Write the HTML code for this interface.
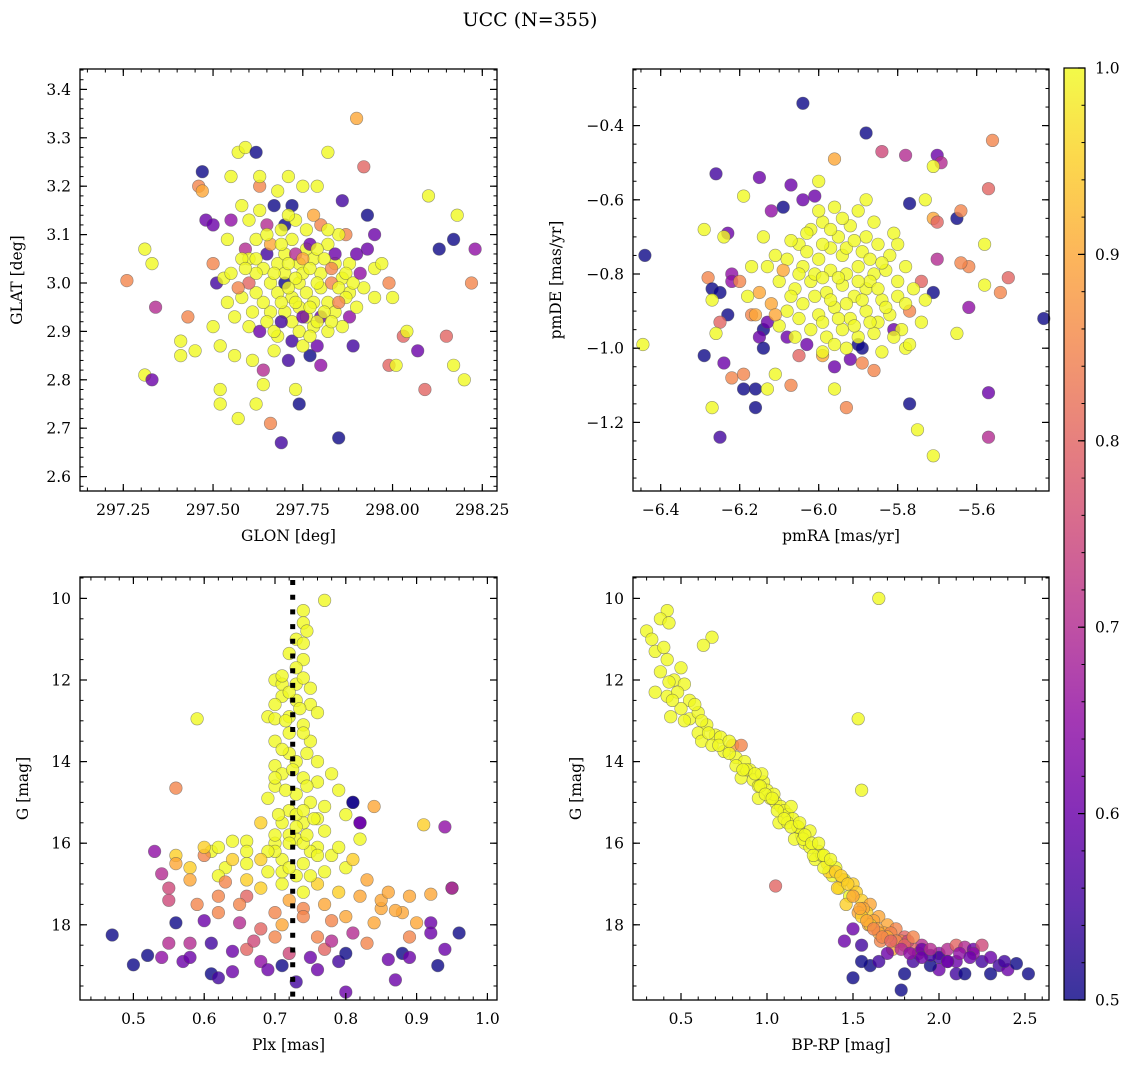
<!DOCTYPE html>
<html><head><meta charset="utf-8"><style>
html,body{margin:0;padding:0;background:#fff;}
svg{display:block;font-family:"DejaVu Serif","Liberation Serif",serif;}
</style></head><body>
<svg id="fig" width="1136" height="1068" viewBox="0 0 1136 1068" xmlns="http://www.w3.org/2000/svg">
<defs>
<linearGradient id="cmap" x1="0" y1="1" x2="0" y2="0">
<stop offset="0" stop-color="#0d0887"/><stop offset="0.1" stop-color="#41049d"/><stop offset="0.2" stop-color="#6a00a8"/><stop offset="0.3" stop-color="#8f0da4"/><stop offset="0.4" stop-color="#b12a90"/><stop offset="0.5" stop-color="#cc4778"/><stop offset="0.6" stop-color="#e16462"/><stop offset="0.7" stop-color="#f2844b"/><stop offset="0.8" stop-color="#fca636"/><stop offset="0.9" stop-color="#fcce25"/><stop offset="1" stop-color="#f0f921"/>
</linearGradient>
</defs>
<text x="530" y="26" font-size="19" text-anchor="middle">UCC (N=355)</text>
</svg>
<script>
// ---- Panel 1: GLON / GLAT ----
const glon=[297.26,297.31,297.33,297.34,297.31,297.33,297.41,297.41,297.43,297.45,297.46,297.47,297.47,297.48,297.50,297.50,297.51,297.52,297.52,297.52,297.53,297.55,297.55,297.56,297.57,297.57,297.59,297.59,297.60,297.61,297.62,297.62,297.63,297.63,297.64,297.64,297.65,297.66,297.67,297.68,297.69,297.70,297.71,297.72,297.73,297.74,297.75,297.77,297.79,297.80,297.82,297.85,297.86,297.87,297.88,297.89,297.90,297.92,297.93,297.95,297.99,298.00,297.99,298.01,298.03,298.09,298.07,298.10,298.13,298.15,298.17,298.17,298.18,298.20,298.22,298.23,298.04,297.95,297.93,
297.62,297.64,297.66,297.68,297.70,297.72,297.74,297.76,297.78,297.80,297.82,297.84,297.86,297.88,297.66,297.68,297.70,297.72,297.74,297.76,297.78,297.80,297.82,297.84,297.70,297.72,297.74,297.76,297.78,297.80,297.66,297.64,297.62,297.60,297.58,297.56,297.60,297.63,297.68,297.72,297.75,297.82,297.86,297.90,297.92,297.88,297.90,297.85,297.80,297.76,297.73,297.69,297.65,297.62,297.58,297.55,297.70,297.75,297.79,297.73,297.77,297.83,297.67,297.71,297.79,297.84,297.60,297.63,297.95,297.97,
297.69,297.71,297.73,297.75,297.77,297.79,297.81,297.83,297.85,297.87,297.67,297.69,297.71,297.73,297.75,297.77,297.79,297.81,297.83,297.85,297.65,297.67,297.69,297.74,297.77,297.62,297.59,297.57,297.54,297.61,297.87,297.89,297.91,297.65,297.71,297.78,297.82,297.58,297.54,297.50];
const glat=[3.005,3.07,3.04,2.95,2.81,2.80,2.88,2.85,2.93,2.86,3.20,3.23,3.19,3.13,3.12,2.91,3.00,2.87,2.78,2.75,3.01,3.13,3.22,2.85,2.72,3.27,3.28,3.07,3.05,2.84,2.75,3.27,3.20,3.22,2.82,2.79,3.06,2.71,3.16,3.19,2.67,3.12,3.22,3.16,2.78,2.75,3.20,2.85,3.20,2.83,3.27,2.68,3.17,3.10,2.93,2.87,3.34,3.24,3.14,3.10,3.00,2.97,2.83,2.83,2.89,2.78,2.86,3.18,3.07,2.89,3.09,2.83,3.14,2.80,3.00,3.07,2.90,3.03,3.07,
3.05,3.03,3.08,3.04,3.06,3.09,3.04,3.07,3.05,3.02,3.08,3.04,3.01,2.98,3.00,2.98,3.00,2.97,3.00,2.98,2.96,2.99,2.96,2.94,2.94,2.92,2.95,2.93,2.91,2.93,2.94,2.96,2.98,3.00,2.97,2.93,2.91,2.90,2.89,2.88,2.87,2.90,2.91,2.95,2.99,3.04,3.06,3.10,3.12,3.11,3.13,3.11,3.12,3.09,3.05,3.02,3.02,3.02,3.00,3.06,3.08,3.00,2.86,2.84,2.87,3.06,3.13,3.15,2.97,3.04,
3.08,3.04,3.01,3.05,3.03,3.07,3.05,3.03,2.99,2.97,3.02,2.96,2.99,2.96,2.93,2.95,2.92,2.94,2.92,2.96,2.92,2.90,2.92,2.90,2.89,3.02,3.03,2.99,2.96,2.94,3.02,3.00,3.02,3.10,3.14,3.14,3.11,3.16,3.09,3.04];
const prob1=[0.85,1,1,0.7,1,0.6,1,1,0.85,1,0.85,0.5,0.9,0.6,0.6,1,0.55,1,1,1,1,0.65,1,1,1,1,1,0.7,1,1,1,0.5,0.85,1,0.7,1,0.55,0.85,0.5,1,0.55,0.5,1,0.5,1,0.5,1,0.5,1,0.65,1,0.5,0.55,0.85,0.65,0.55,0.9,0.8,0.5,0.6,0.85,1,0.8,1,0.8,0.8,0.6,1,0.5,0.8,0.5,1,1,1,0.85,0.65,1,1,0.6,
1,1,0.9,1,1,1,1,1,1,1,1,1,1,1,1,1,0.5,1,1,1,1,1,1,1,1,1,1,1,1,0.6,1,1,1,0.8,1,1,1,0.6,1,0.55,1,1,1,1,1,1,0.6,1,0.85,1,1,1,0.7,1,1,1,1,1,1,0.7,0.6,0.85,1,0.55,0.6,0.6,1,1,1,1,
1,1,1,0.9,1,1,1,0.85,1,1,1,1,1,1,0.6,1,1,1,1,0.85,1,1,0.55,1,1,1,1,0.85,1,1,1,1,0.65,1,1,0.9,1,1,1,0.85];

// ---- Panel 2: pmRA / pmDE ----
const pmra=[-6.04,-5.88,-5.56,-5.96,-5.78,-5.70,-5.84,-5.69,-5.71,-6.26,-6.15,-6.07,-5.57,-6.19,-6.09,-6.12,-6.04,-6.00,-6.01,-5.73,-5.71,-5.70,-5.65,-5.64,-5.77,-6.29,-6.23,-6.24,-6.44,-6.22,-6.22,-6.28,-6.27,-6.25,-6.27,-6.23,-6.25,-6.26,-6.29,-6.445,-6.24,-6.22,-6.19,-6.19,-6.16,-6.16,-6.13,-6.11,-6.27,-6.25,-6.07,-5.93,-5.96,-5.75,-5.77,-5.71,-5.57,-5.57,-5.52,-5.43,-5.54,-5.58,-5.62,-5.65,-5.58,-5.62,-5.64,-5.70,-5.71,-5.74,-5.73,-5.77,-5.81,-5.78,-5.96,-5.92,-5.86,-5.99,-6.03,-6.05,-6.08,-6.14,-6.15,-6.17,-6.14,-6.13,-5.90,-5.89,
-6.05,-6.02,-5.99,-5.95,-5.92,-5.88,-5.85,-5.82,-6.08,-6.04,-6.00,-5.97,-5.94,-5.90,-5.86,-5.83,-5.80,-6.10,-6.06,-6.02,-5.98,-5.94,-5.91,-5.88,-5.84,-5.80,-6.12,-6.08,-6.04,-6.00,-5.96,-5.92,-5.88,-5.85,-5.82,-6.02,-5.98,-5.94,-5.90,-5.86,-5.79,-6.10,-5.96,-5.90,-5.86,-6.13,-6.15,-5.78,-5.76,-5.93,-5.99,-5.84,-6.06,-5.97,-5.89,-6.01,-5.93,-5.87,-6.07,-5.81,-6.14,-6.17,-6.18,-6.11,-5.74,-5.77,
-6.03,-5.99,-5.93,-5.87,-5.84,-6.05,-5.99,-5.95,-5.90,-5.85,-6.07,-6.01,-5.97,-5.93,-5.89,-5.83,-6.05,-5.99,-5.95,-5.91,-5.87,-5.81,-6.03,-5.97,-5.91,-5.80,-6.09,-5.78,-6.11,-5.96,-5.89,-6.00,-5.94,-5.88,-6.20,-6.16];
const pmde=[-0.34,-0.42,-0.44,-0.49,-0.48,-0.48,-0.47,-0.50,-0.51,-0.53,-0.54,-0.56,-0.57,-0.59,-0.62,-0.63,-0.60,-0.55,-0.59,-0.60,-0.65,-0.66,-0.65,-0.63,-0.61,-0.68,-0.69,-0.70,-0.75,-0.80,-0.82,-0.81,-0.84,-0.85,-0.87,-0.91,-0.93,-0.96,-1.02,-0.99,-1.04,-1.08,-1.07,-1.11,-1.11,-1.16,-1.11,-1.07,-1.16,-1.24,-1.10,-1.16,-1.11,-1.22,-1.15,-1.29,-1.12,-1.24,-0.81,-0.92,-0.85,-0.83,-0.89,-0.96,-0.72,-0.78,-0.77,-0.76,-0.85,-0.82,-0.87,-0.90,-0.95,-1.00,-1.05,-1.03,-1.06,-1.02,-0.99,-1.02,-0.97,-0.95,-0.97,-0.91,-1.00,-0.93,-0.99,-1.00,
-0.72,-0.68,-0.66,-0.70,-0.67,-0.70,-0.72,-0.75,-0.76,-0.78,-0.76,-0.79,-0.75,-0.78,-0.80,-0.79,-0.82,-0.82,-0.84,-0.82,-0.85,-0.83,-0.86,-0.84,-0.87,-0.86,-0.88,-0.90,-0.88,-0.91,-0.89,-0.92,-0.90,-0.93,-0.91,-0.95,-0.97,-0.95,-0.97,-0.96,-0.95,-0.94,-0.62,-0.63,-0.66,-0.78,-0.85,-0.78,-0.84,-1.00,-1.01,-1.01,-0.97,-0.73,-0.74,-0.80,-0.80,-0.82,-0.71,-0.69,-0.70,-0.78,-0.86,-0.75,-0.93,-0.99,
-0.74,-0.72,-0.73,-0.76,-0.77,-0.80,-0.81,-0.81,-0.82,-0.84,-0.86,-0.86,-0.87,-0.88,-0.87,-0.89,-0.92,-0.93,-0.92,-0.94,-0.93,-0.97,-0.69,-0.68,-0.71,-0.72,-0.79,-0.88,-0.91,-0.99,-1.04,-0.63,-0.65,-0.60,-0.82,-0.91];
const prob2=[0.5,0.5,0.85,0.9,0.7,0.6,0.75,0.7,1,0.55,0.6,0.6,0.8,1,0.5,0.65,0.6,1,0.6,1,0.9,0.8,0.5,0.85,0.5,1,0.6,1,0.5,0.65,0.65,0.85,0.5,0.5,1,0.5,0.8,1,0.5,1,0.6,0.85,0.85,0.5,0.5,0.5,1,1,1,0.55,0.85,0.85,1,1,0.5,1,0.6,0.7,0.8,0.5,0.85,1,0.65,1,1,0.85,0.85,0.7,0.5,0.8,1,0.85,0.6,1,0.6,0.6,0.85,0.9,0.6,0.8,0.6,0.5,0.6,0.85,0.5,0.6,0.5,0.5,
1,1,1,1,1,1,1,1,1,1,1,1,1,1,1,1,1,1,1,1,1,1,1,1,1,1,0.9,1,1,1,1,1,1,1,1,1,1,1,1,1,1,1,1,1,1,1,0.9,1,1,1,1,1,1,1,1,1,1,1,1,1,1,1,1,1,1,1,
1,1,1,1,1,1,1,1,1,1,1,1,1,1,1,1,1,1,1,1,1,1,1,1,1,1,0.9,1,0.9,1,0.85,1,1,1,0.85,0.9];

// ---- Panel 3: Plx / G ----
const plx=[0.77,0.74,0.74,0.745,0.73,0.74,0.72,0.74,0.73,0.70,0.71,0.73,0.75,0.75,0.73,0.71,0.70,0.69,0.70,0.72,0.76,0.59,0.74,0.72,0.70,0.75,0.72,0.70,0.73,0.76,0.71,0.74,0.76,0.78,0.70,0.73,0.79,0.69,0.75,0.72,0.77,0.80,0.71,0.74,0.68,0.77,0.73,0.66,0.64,0.82,0.70,0.76,0.78,0.61,0.66,0.71,0.74,0.63,0.69,0.73,0.77,0.80,0.56,0.56,0.58,0.60,0.62,0.66,0.68,0.71,0.74,0.76,0.79,0.82,0.85,0.88,0.92,0.95,0.94,0.91,0.84,0.81,0.82,0.85,0.72,0.75,0.70,0.73,0.76,0.71,0.74,0.72,
0.47,0.50,0.52,0.55,0.54,0.53,0.54,0.55,0.55,0.56,0.56,0.57,0.58,0.58,0.59,0.60,0.61,0.61,0.62,0.62,0.64,0.64,0.65,0.66,0.67,0.68,0.69,0.70,0.71,0.72,0.73,0.75,0.76,0.77,0.78,0.78,0.79,0.80,0.80,0.81,0.81,0.82,0.83,0.84,0.86,0.87,0.88,0.89,0.89,0.90,0.92,0.92,0.93,0.94,0.95,0.96,0.87,0.63,0.66,0.74,0.70,0.68,0.76,
0.71,0.74,0.72,0.735,0.715,0.74,0.71,0.745,0.725,0.70,0.745,0.715,0.74,0.705,0.73,0.755,0.70,0.745,0.72,0.69,0.76,0.72,0.75,0.68,0.66,0.64,0.62,0.60,0.58,0.79,0.81,0.83,0.86,0.89,0.74,0.71,0.77,0.80,0.65,0.62];
const gmag3=[10.05,10.3,10.6,10.8,11.0,11.1,11.35,11.5,11.7,12.0,12.1,12.1,12.2,12.6,12.5,12.4,12.6,12.9,12.95,12.9,12.8,12.95,13.1,13.3,13.5,13.5,13.8,14.1,14.0,14.0,14.3,14.4,14.5,14.3,14.6,14.8,14.7,14.9,15.0,15.2,15.1,15.3,15.5,15.5,15.5,15.7,15.9,15.95,15.95,15.9,16.0,16.1,16.3,16.2,16.5,16.4,16.5,16.6,16.7,16.8,16.7,16.6,16.3,16.5,16.6,16.3,16.8,16.9,17.1,17.0,17.2,17.0,17.2,17.3,17.6,17.7,17.25,17.1,15.6,15.55,15.1,15.0,15.5,17.4,15.8,16.2,16.2,15.3,15.4,16.7,16.0,17.4,
18.25,18.98,18.75,18.45,18.8,16.2,16.75,17.1,17.4,17.95,14.65,18.9,18.45,18.8,17.5,17.9,18.45,19.2,19.3,17.7,18.65,19.15,17.95,18.6,18.4,18.9,19.1,18.3,19.0,18.7,19.4,18.8,19.1,18.6,17.9,18.4,18.9,19.65,18.7,18.2,15.0,15.5,18.45,17.95,18.85,19.35,18.7,18.8,18.3,17.95,17.95,18.2,19.0,18.6,17.1,18.2,17.65,16.95,17.3,17.6,17.7,18.1,18.3,
11.9,11.95,12.3,12.7,13.0,13.3,13.7,13.8,14.2,14.4,14.6,14.7,15.2,15.3,15.6,15.4,15.8,15.8,16.0,16.2,16.3,16.6,16.8,16.4,16.2,16.4,16.1,16.1,16.9,16.1,16.4,16.9,17.2,17.3,17.8,18.0,17.5,17.8,17.5,17.3];
const prob3=[1,1,1,1,1,1,1,1,1,1,1,1,1,1,1,1,1,1,1,1,1,1,1,1,1,1,1,1,1,1,1,1,1,1,1,1,1,1,1,1,1,1,1,1,0.95,1,1,1,1,1,1,1,1,1,1,1,1,1,1,1,1,1,0.95,0.9,0.95,0.85,1,0.95,0.95,1,1,0.95,0.95,0.9,0.9,0.9,0.9,0.95,0.65,0.95,0.9,0.55,0.6,0.9,1,1,1,1,1,1,1,0.9,
0.5,0.5,0.5,0.7,0.65,0.65,0.7,0.75,0.75,0.5,0.85,0.6,0.7,0.6,0.85,0.6,0.55,0.5,0.55,0.85,0.6,0.6,0.7,0.8,0.75,0.65,0.6,0.85,0.5,0.75,0.55,0.6,0.6,0.8,0.85,0.7,0.55,0.6,0.5,0.7,0.5,0.6,0.85,0.9,0.6,0.6,0.5,0.6,0.85,0.9,0.6,0.6,0.5,0.6,0.65,0.5,0.9,0.85,0.8,0.85,0.85,0.8,0.85,
1,1,1,1,1,1,1,1,1,1,1,1,1,1,1,1,1,1,1,1,1,1,1,0.95,1,0.95,1,0.95,0.9,1,0.95,0.9,0.9,0.9,0.85,0.9,0.9,0.9,0.85,0.85];

// ---- Panel 4: BP-RP / G ----
const bprp=[0.42,0.38,0.43,0.30,0.68,0.63,0.35,0.42,0.38,0.46,0.43,0.52,0.35,0.42,0.48,0.55,0.50,0.44,0.55,0.60,0.65,0.60,0.70,0.73,0.62,0.68,0.80,0.75,0.82,0.87,0.90,0.85,0.92,0.98,1.00,0.95,1.05,1.08,1.10,1.12,1.15,1.07,1.18,1.20,1.25,1.16,1.22,1.30,1.28,1.35,1.40,1.38,1.45,1.50,1.42,1.52,1.55,1.60,1.58,1.65,1.70,1.75,1.80,1.90,2.00,2.10,
0.78,0.88,0.95,1.02,1.12,1.18,1.25,1.32,1.36,1.44,1.48,1.56,1.62,1.68,1.72,1.78,1.85,0.97,1.04,1.14,1.21,1.27,1.33,1.41,1.46,1.53,1.59,1.64,1.66,1.73,1.82,1.88,
1.65,1.53,1.55,1.05,0.85,
1.90,2.00,2.05,2.10,2.15,2.20,2.25,2.30,2.35,2.40,2.45,2.52,2.00,2.10,1.95,1.85,1.80,1.78,1.60,1.55,1.50,1.55,1.45,1.50,1.70,1.65,2.15,2.25,1.75,1.80,1.85,1.65,1.60,1.70,1.55,2.05,1.95,2.20,
0.33,0.40,0.50,0.45,0.58,0.52,0.62,0.66,0.72,0.78,0.82,0.86,0.93,0.96,0.99,1.03,1.06,1.10,1.14,1.19,1.22,1.26,1.30,1.33,1.37,1.40,1.43,1.47,1.50,1.54,1.58,1.62,1.67,1.72,1.78,1.83,1.90,1.95,2.05,2.12,2.18,2.30,2.38];
const gmag4=[10.3,10.5,10.6,10.8,10.95,11.15,11.3,11.5,11.8,12.0,12.05,12.1,12.3,12.4,12.3,12.5,12.7,12.9,12.95,12.8,13.1,13.3,13.35,13.4,13.5,13.6,13.6,13.75,13.9,14.0,14.2,14.4,14.45,14.5,14.7,14.9,15.0,15.1,15.2,15.3,15.4,15.5,15.6,15.8,15.7,15.9,16.0,16.2,16.4,16.5,16.6,16.8,16.9,17.0,17.1,17.2,17.4,17.5,17.7,17.8,18.0,18.1,18.3,18.5,18.7,18.9,
13.8,14.2,14.6,14.9,15.5,15.6,16.1,16.3,16.7,16.9,17.3,17.6,17.9,18.2,18.2,18.4,18.6,14.3,14.8,15.1,15.9,16.3,16.6,17.1,17.5,17.7,18.0,18.1,18.4,18.6,18.4,18.7,
10.0,12.95,14.7,17.05,13.6,
18.6,18.8,18.6,18.5,18.55,18.6,18.9,18.8,19.0,19.1,18.95,19.2,19.1,19.2,19.0,18.9,19.2,19.6,19.0,18.9,19.3,18.5,18.4,18.1,18.7,18.9,19.2,18.5,18.4,18.5,18.3,18.2,18.0,18.3,17.8,18.9,18.75,18.7,
11.0,11.2,11.7,12.5,12.6,13.0,13.0,13.3,13.6,13.5,14.1,14.2,14.3,14.6,14.8,14.9,15.2,15.4,15.6,15.5,15.8,16.0,16.0,16.3,16.4,16.7,16.8,17.0,17.3,17.6,17.9,18.1,18.3,18.4,18.6,18.7,18.8,18.6,18.9,18.7,18.8,19.2,18.9];
const prob4=[1,1,1,1,1,1,1,1,1,1,1,1,1,1,1,1,1,1,1,1,1,1,1,1,1,1,0.9,1,1,1,1,1,1,1,1,1,1,1,1,1,1,1,1,1,1,1,1,1,1,0.95,1,1,1,0.95,1,0.95,0.95,0.9,0.95,0.9,0.9,0.85,0.8,0.7,0.65,0.6,
1,1,1,1,1,1,1,1,0.95,0.95,1,0.9,0.9,0.9,0.85,0.85,0.8,1,1,1,1,1,1,0.95,0.95,0.9,0.9,0.9,0.85,0.9,0.75,0.7,
1,1,1,0.8,0.85,
0.6,0.55,0.7,0.8,0.7,0.6,0.55,0.6,0.55,0.6,0.5,0.5,0.6,0.55,0.5,0.55,0.5,0.5,0.5,0.5,0.5,0.55,0.6,0.6,0.6,0.55,0.5,0.75,0.85,0.8,0.85,0.9,0.95,0.9,0.95,0.6,0.55,0.65,
1,1,1,1,1,1,1,1,1,1,1,1,1,1,1,1,1,1,1,1,1,1,1,1,1,0.95,0.95,0.95,0.9,0.9,0.9,0.85,0.85,0.8,0.7,0.65,0.6,0.7,0.6,0.65,0.6,0.5,0.55];

const plxLine=[0.725];
const cbTicks=[0.5,0.6,0.7,0.8,0.9,1.0];

const NS='http://www.w3.org/2000/svg';
const svg=document.getElementById('fig');
function mk(tag,attrs,parent){const e=document.createElementNS(NS,tag);for(const k in attrs)e.setAttribute(k,attrs[k]);(parent||svg).appendChild(e);return e;}
const stops=[[0,[13,8,135]],[0.1,[65,4,157]],[0.2,[106,0,168]],[0.3,[143,13,164]],[0.4,[177,42,144]],[0.5,[204,71,120]],[0.6,[225,100,98]],[0.7,[242,132,75]],[0.8,[252,166,54]],[0.9,[252,206,37]],[1,[240,249,33]]];
function plasma(p){let t=Math.max(0,Math.min(1,(p-0.5)/0.5));for(let i=1;i<stops.length;i++){if(t<=stops[i][0]){const a=stops[i-1],b=stops[i],f=(t-a[0])/(b[0]-a[0]);const c=a[1].map((v,j)=>Math.round(v+(b[1][j]-v)*f));return `rgb(${c[0]},${c[1]},${c[2]})`;}}return 'rgb(240,249,33)';}
function lin(d0,d1,p0,p1){return v=>p0+(v-d0)*(p1-p0)/(d1-d0);}

function panel(cfg){
  const g=mk('g',{});
  
  
  const {L,R,T,B,sx,sy}=cfg;
  const inv=(f,p)=>{const a=f(0),b=f(1);return (p-a)/(b-a);};
  const pg=mk('g',{},g);
  
  
  for(let i=0;i<cfg.xs.length;i++){
    const c=mk('circle',{cx:sx(cfg.xs[i]).toFixed(1),cy:sy(cfg.ys[i]).toFixed(1),r:6.3,fill:plasma(cfg.ps[i]),'fill-opacity':0.8,stroke:'#555','stroke-opacity':0.6,'stroke-width':0.6},pg);
    
    
  }
  if(cfg.extra)cfg.extra(g);
  const fr=mk('rect',{x:L,y:T,width:R-L,height:B-T,fill:'none',stroke:'#000','stroke-width':1.3},g);
  
  
  const xlo=inv(sx,L),xhi=inv(sx,R);
  for(let v=Math.ceil(xlo/cfg.xmin-1e-6)*cfg.xmin;v<=xhi+1e-9;v+=cfg.xmin){const px=sx(v);mk('line',{x1:px,x2:px,y1:B,y2:B-3.5,stroke:'#000','stroke-width':1},g);mk('line',{x1:px,x2:px,y1:T,y2:T+3.5,stroke:'#000','stroke-width':1},g);}
  cfg.xmaj.forEach(v=>{const px=sx(v);mk('line',{x1:px,x2:px,y1:B,y2:B-7,stroke:'#000','stroke-width':1.2},g);mk('line',{x1:px,x2:px,y1:T,y2:T+7,stroke:'#000','stroke-width':1.2},g);
    const t=mk('text',{x:px,y:B+24,'font-size':15.5,'text-anchor':'middle'},g);t.textContent=cfg.xfmt(v);
    
    });
  const ya=inv(sy,T),yb=inv(sy,B),ylo=Math.min(ya,yb),yhi=Math.max(ya,yb);
  for(let v=Math.ceil(ylo/cfg.ymin-1e-6)*cfg.ymin;v<=yhi+1e-9;v+=cfg.ymin){const py=sy(v);mk('line',{x1:L,x2:L+3.5,y1:py,y2:py,stroke:'#000','stroke-width':1},g);mk('line',{x1:R,x2:R-3.5,y1:py,y2:py,stroke:'#000','stroke-width':1},g);}
  cfg.ymaj.forEach(v=>{const py=sy(v);mk('line',{x1:L,x2:L+7,y1:py,y2:py,stroke:'#000','stroke-width':1.2},g);mk('line',{x1:R,x2:R-7,y1:py,y2:py,stroke:'#000','stroke-width':1.2},g);
    const t=mk('text',{x:L-9,y:py+5.5,'font-size':15.5,'text-anchor':'end'},g);t.textContent=cfg.yfmt(v);
    
    });
  const xl=mk('text',{x:(L+R)/2,y:B+50,'font-size':15.5,'text-anchor':'middle'},g);xl.textContent=cfg.xlabel;
  
  
  const yx=cfg.ylx,yy=(T+B)/2;
  const yl=mk('text',{x:yx,y:yy,'font-size':15.5,'text-anchor':'middle',transform:`rotate(-90 ${yx} ${yy})`},g);yl.textContent=cfg.ylabel;
  
  
}
const f2=v=>v.toFixed(2),f1=v=>v.toFixed(1),f0=v=>v.toFixed(0),fm=v=>v.toFixed(1).replace('-','\u2212');

panel({name:'glon-glat-panel',L:80,R:497,T:69,B:491,sx:lin(297.25,298.25,123.3,482.3),sy:lin(2.6,3.4,476.6,89.4),
  xs:glon,ys:glat,ps:prob1,xmaj:[297.25,297.5,297.75,298.0,298.25],xmin:0.05,ymaj:[2.6,2.7,2.8,2.9,3.0,3.1,3.2,3.3,3.4],ymin:0.02,
  xfmt:f2,yfmt:f1,xlabel:'GLON [deg]',ylabel:'GLAT [deg]',ylx:22});
panel({name:'pm-panel',L:633,R:1049,T:69,B:491,sx:lin(-6.4,-5.6,660.7,976.7),sy:lin(-1.2,-0.4,422.4,125.6),
  xs:pmra,ys:pmde,ps:prob2,xmaj:[-6.4,-6.2,-6.0,-5.8,-5.6],xmin:0.05,ymaj:[-1.2,-1.0,-0.8,-0.6,-0.4],ymin:0.05,
  xfmt:fm,yfmt:fm,xlabel:'pmRA [mas/yr]',ylabel:'pmDE [mas/yr]',ylx:561});
panel({name:'plx-g-panel',L:80,R:497,T:577,B:1000,sx:lin(0.5,1.0,133.4,487.4),sy:lin(10,18,598.4,924.8),
  xs:plx,ys:gmag3,ps:prob3,xmaj:[0.5,0.6,0.7,0.8,0.9,1.0],xmin:0.02,ymaj:[10,12,14,16,18],ymin:0.5,
  xfmt:f1,yfmt:f0,xlabel:'Plx [mas]',ylabel:'G [mag]',ylx:28,
  extra:(g)=>{const sx=lin(0.5,1.0,133.4,487.4);plxLine.forEach(v=>{const l=mk('line',{x1:sx(v),x2:sx(v),y1:580,y2:1000,stroke:'#000','stroke-width':5,'stroke-dasharray':'5 9.7'},g);
    
    });}});
panel({name:'cmd-panel',L:633,R:1049,T:577,B:1000,sx:lin(0.5,2.5,681,1025),sy:lin(10,18,598.4,924.8),
  xs:bprp,ys:gmag4,ps:prob4,xmaj:[0.5,1.0,1.5,2.0,2.5],xmin:0.1,ymaj:[10,12,14,16,18],ymin:0.5,
  xfmt:f1,yfmt:f0,xlabel:'BP-RP [mag]',ylabel:'G [mag]',ylx:581});

const cb=mk('g',{});


mk('rect',{x:1064,y:68,width:21,height:932,fill:'url(#cmap)','fill-opacity':0.82},cb);
mk('rect',{x:1064,y:68,width:21,height:932,fill:'none',stroke:'#000','stroke-width':1.2},cb);
const cy=lin(0.5,1.0,1000,68);
for(let v=0.5;v<=1.0001;v+=0.02){mk('line',{x1:1085,x2:1081.5,y1:cy(v),y2:cy(v),stroke:'#000','stroke-width':1},cb);}
cbTicks.forEach(v=>{mk('line',{x1:1085,x2:1078,y1:cy(v),y2:cy(v),stroke:'#000','stroke-width':1.2},cb);
  const t=mk('text',{x:1095,y:cy(v)+5.5,'font-size':15.5},cb);t.textContent=v.toFixed(1);
  
  });
</script>
</body></html>
